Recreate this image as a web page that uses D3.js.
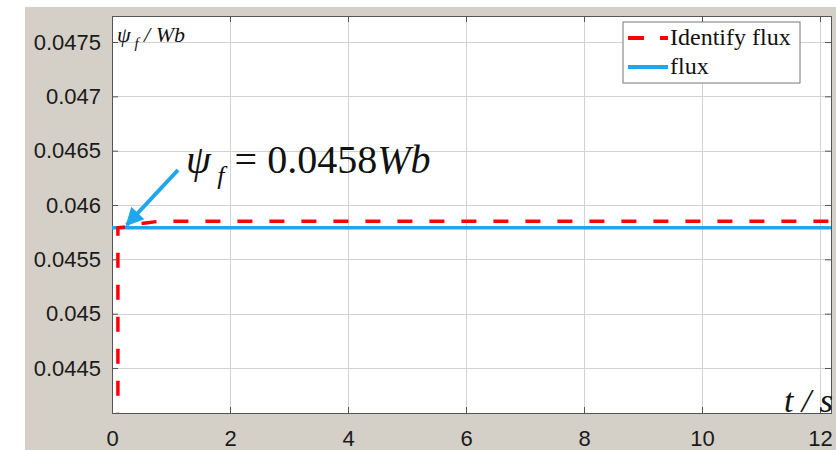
<!DOCTYPE html>
<html>
<head>
<meta charset="utf-8">
<style>
  body { margin: 0; background: #fff; }
  svg { display: block; }
</style>
</head>
<body>
<script src="https://d3js.org/d3.v7.min.js"></script>
<script>
// chart data
var xTicks = [0, 2, 4, 6, 8, 10, 12];
var yTicks = [0.0445, 0.045, 0.0455, 0.046, 0.0465, 0.047, 0.0475];
var yTickLabels = ["0.0445", "0.045", "0.0455", "0.046", "0.0465", "0.047", "0.0475"];

var fluxT = [0, 12.2];
var fluxV = [0.04579, 0.04579];

var identT = [0.1, 0.1, 0.25, 0.5, 0.8, 2, 4, 6, 8, 10, 12.2];
var identV = [0.04395, 0.04579, 0.04580, 0.04583, 0.04585, 0.04585, 0.04585, 0.04585, 0.04585, 0.04585, 0.04585];

var legendNames = ["Identify flux", "flux"];

// plot box edges in px (note: "top" is taken by window.top)
var width = 836, height = 450,
    pLeft = 112, pTop = 16, pRight = 831, pBottom = 413,
    figBg = "#d4d0c8",
    red = "#ff0000",
    blue = "#1ea7ec";

var svg = d3.select("body").append("svg")
    .attr("width", width)
    .attr("height", height);

// figure background (matlab grey)
svg.append("rect")
    .attr("x", 25).attr("y", 7)
    .attr("width", width - 25).attr("height", height - 7)
    .attr("fill", figBg);

var x = d3.scaleLinear().domain([0, (pRight - pLeft) / 59]).range([pLeft, pRight]);
var y = d3.scaleLinear()
    .domain([0.0445 - (pBottom - 368) / 54.3 * 0.0005, 0.0475 + (42 - pTop) / 54.3 * 0.0005])
    .range([pBottom, pTop]);

svg.append("rect")
    .attr("x", pLeft).attr("y", pTop)
    .attr("width", pRight - pLeft).attr("height", pBottom - pTop)
    .attr("fill", "#fff");

// grid
var grid = svg.append("g").attr("stroke", "#d2d2d2").attr("stroke-width", 1);
xTicks.forEach(function (d) {
    grid.append("line")
        .attr("x1", Math.round(x(d)) + 0.5).attr("x2", Math.round(x(d)) + 0.5)
        .attr("y1", pTop).attr("y2", pBottom);
});
yTicks.forEach(function (d) {
    grid.append("line")
        .attr("x1", pLeft).attr("x2", pRight)
        .attr("y1", Math.round(y(d)) + 0.5).attr("y2", Math.round(y(d)) + 0.5);
});

// axes
svg.append("g")
    .attr("transform", "translate(0," + pBottom + ")")
    .call(d3.axisBottom(x).tickValues(xTicks).tickSize(-6).tickPadding(17).tickFormat(d3.format("d")));
svg.append("g")
    .attr("transform", "translate(" + pLeft + ",0)")
    .call(d3.axisLeft(y).tickValues(yTicks).tickSize(-6).tickPadding(11)
        .tickFormat(function (d, i) { return yTickLabels[i]; }));
svg.append("g")
    .attr("transform", "translate(" + pRight + ",0)")
    .call(d3.axisRight(y).tickValues(yTicks).tickSize(-6).tickFormat(""));
svg.append("g")
    .attr("transform", "translate(0," + pTop + ")")
    .call(d3.axisTop(x).tickValues(xTicks).tickSize(-6).tickFormat(""));

svg.selectAll(".domain").attr("stroke", "#555");
svg.selectAll(".tick line").attr("stroke", "#555");
svg.selectAll(".tick text")
    .attr("fill", "#1a1a1a")
    .style("font-family", "'Liberation Sans', Arial, sans-serif")
    .style("font-size", "22px");

// lines
var line = d3.line()
    .x(function (d) { return x(d[0]); })
    .y(function (d) { return y(d[1]); });

svg.append("clipPath").attr("id", "clip")
    .append("rect").attr("x", pLeft).attr("y", pTop)
    .attr("width", pRight - pLeft).attr("height", pBottom - pTop);

var plot = svg.append("g").attr("clip-path", "url(#clip)");

plot.append("path")
    .datum(fluxT.map(function (t, i) { return [t, fluxV[i]]; }))
    .attr("d", line)
    .attr("fill", "none")
    .attr("stroke", blue)
    .attr("stroke-width", 3.5);

plot.append("path")
    .datum(identT.map(function (t, i) { return [t, identV[i]]; }))
    .attr("d", line)
    .attr("fill", "none")
    .attr("stroke", red)
    .attr("stroke-width", 3.5)
    .attr("stroke-dasharray", "15,17");

// axis titles
var serif = "'Liberation Serif', 'Times New Roman', serif";
var yl = svg.append("text")
    .attr("x", 117).attr("y", 42)
    .style("font-family", serif).style("font-style", "italic")
    .style("font-size", "22px").attr("fill", "#111");
yl.append("tspan").text("\u03c8");
yl.append("tspan").attr("dy", 6).style("font-size", "15px").text(" f");
yl.append("tspan").attr("dy", -6).text(" / Wb");

svg.append("text")
    .attr("x", 833).attr("y", 412)
    .attr("text-anchor", "end")
    .style("font-family", serif).style("font-style", "italic")
    .style("font-size", "34px").attr("fill", "#111")
    .text("t / s");

// annotation
var ann = svg.append("text")
    .attr("x", 186).attr("y", 173)
    .style("font-family", serif)
    .style("font-size", "40px").attr("fill", "#111");
ann.append("tspan").style("font-style", "italic").text("\u03c8");
ann.append("tspan").attr("dy", 11).style("font-style", "italic").style("font-size", "26px").text(" f");
ann.append("tspan").attr("dy", -11).text(" = 0.0458");
ann.append("tspan").style("font-style", "italic").text("Wb");

svg.append("defs").append("marker")
    .attr("id", "arrow")
    .attr("viewBox", "0 0 10 10")
    .attr("refX", 9).attr("refY", 5)
    .attr("markerWidth", 5).attr("markerHeight", 4.5)
    .attr("markerUnits", "strokeWidth")
    .attr("orient", "auto")
    .append("path").attr("d", "M0,0L10,5L0,10z").attr("fill", blue);

svg.append("line")
    .attr("x1", 178).attr("y1", 170)
    .attr("x2", x(0.25)).attr("y2", y(0.04579) - 3)
    .attr("stroke", blue).attr("stroke-width", 4)
    .attr("marker-end", "url(#arrow)");

// legend
var lg = svg.append("g").attr("transform", "translate(623,22)");
lg.append("rect")
    .attr("width", 177).attr("height", 61)
    .attr("fill", "#fff").attr("stroke", "#777");
var colors = [red, blue];
legendNames.forEach(function (name, i) {
    var yy = 16 + i * 29;
    lg.append("line")
        .attr("x1", 5).attr("x2", 45)
        .attr("y1", yy).attr("y2", yy)
        .attr("stroke", colors[i]).attr("stroke-width", 4)
        .attr("stroke-dasharray", i === 0 ? "16,16" : null);
    lg.append("text")
        .attr("x", 47).attr("y", yy + 7)
        .style("font-family", serif).style("font-size", "24px")
        .attr("fill", "#111")
        .text(name);
});
</script>
</body>
</html>
